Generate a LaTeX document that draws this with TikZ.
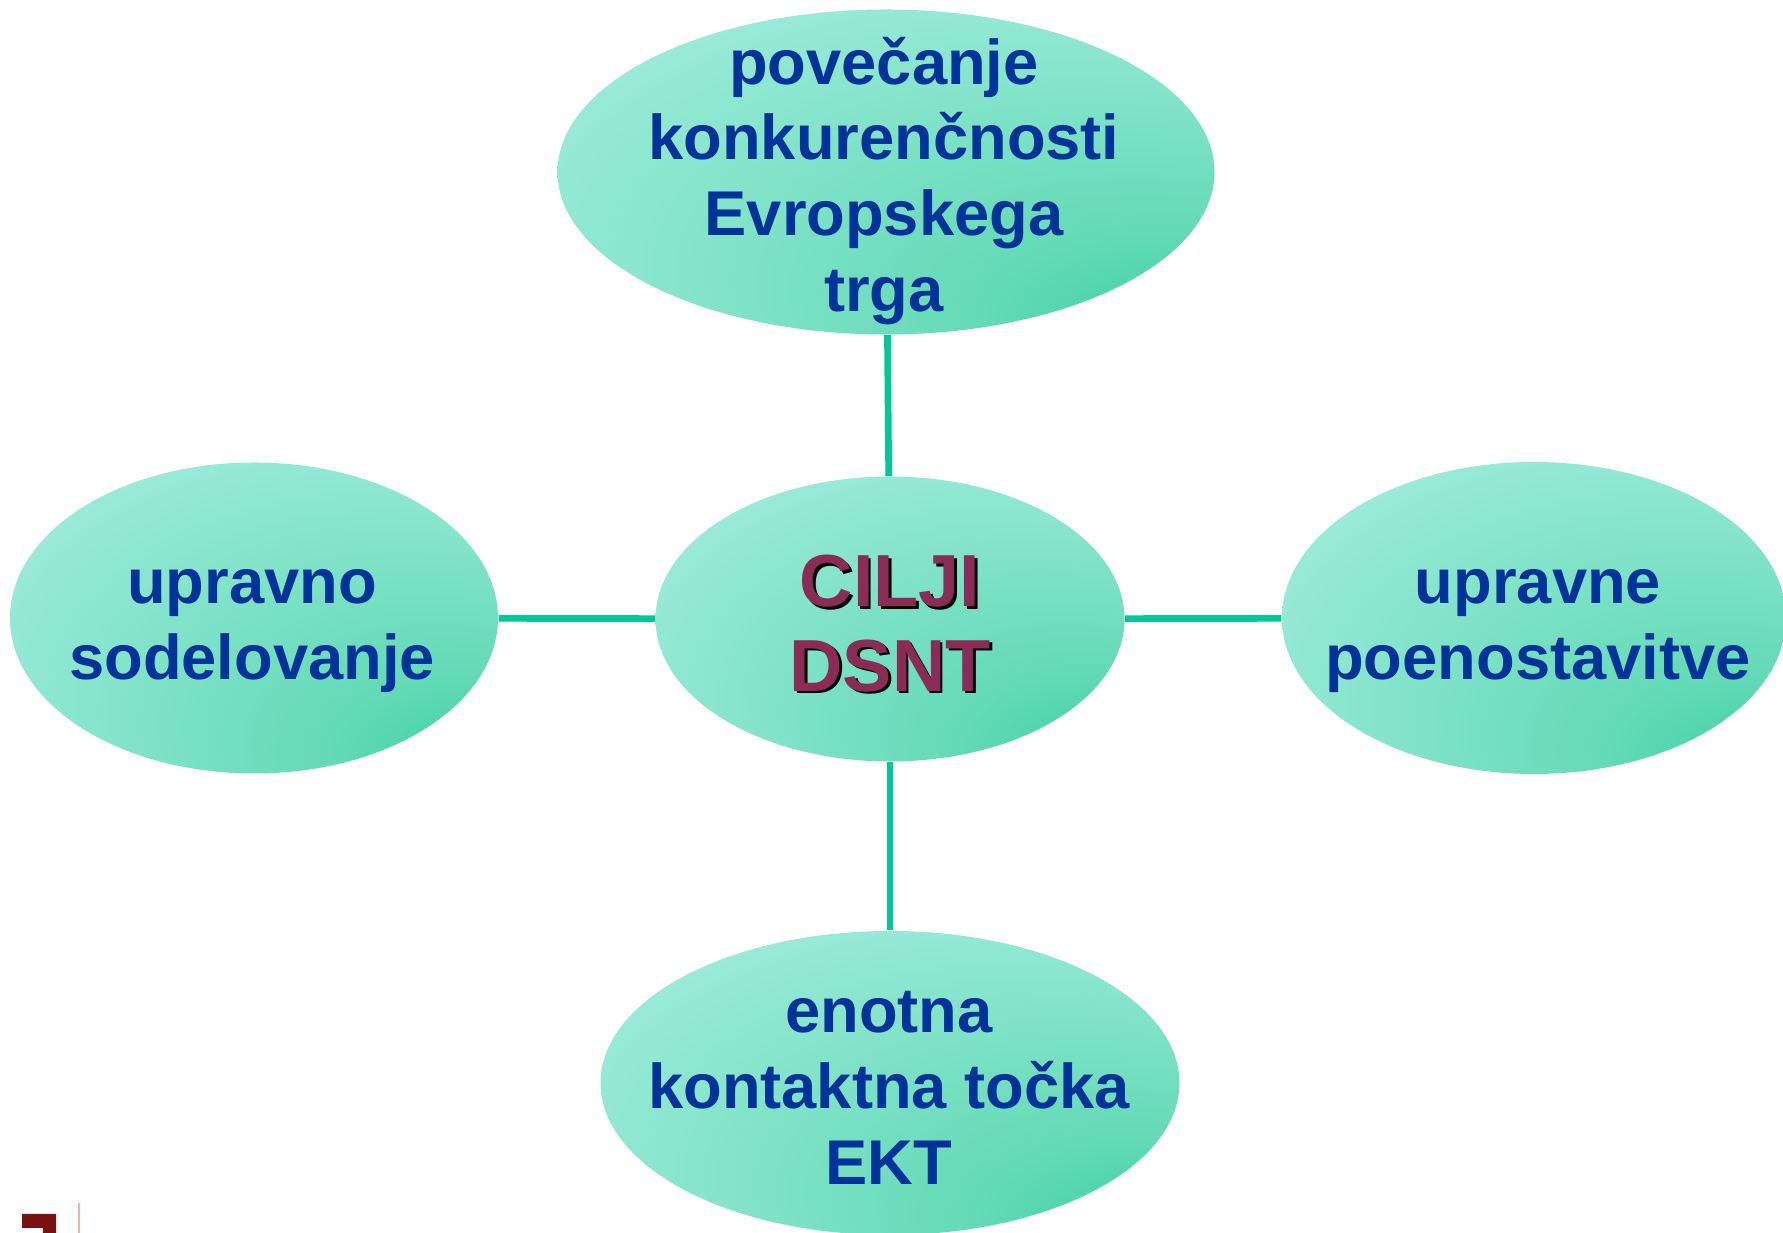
\documentclass[tikz,border=0pt]{standalone}
\usepackage{fontspec}
\setmainfont{Liberation Sans}
\usepackage{tikz}
\definecolor{white}{rgb}{1.0, 1.0, 1.0}
\definecolor{black}{rgb}{0.0, 0.0, 0.0}
\definecolor{lgreen}{RGB}{155, 235, 216}
\definecolor{mgreen}{RGB}{100, 218, 182}
\definecolor{dgreen}{RGB}{40, 204, 152}
\definecolor{lnk}{RGB}{0, 200, 150}
\definecolor{tblue}{RGB}{0, 51, 153}
\definecolor{cred}{RGB}{138, 44, 85}
\definecolor{logored}{RGB}{122, 18, 18}
\definecolor{lpink}{RGB}{244, 176, 176}
\usetikzlibrary{shapes.geometric}
\pgfdeclarelayer{edgelayer}
\pgfdeclarelayer{nodelayer}
\pgfsetlayers{edgelayer,nodelayer,main}
\pgfdeclareradialshading{ovalshade}{\pgfpoint{28bp}{-30bp}}{color(0bp)=(dgreen); color(14bp)=(mgreen); color(40bp)=(lgreen); color(60bp)=(lgreen)}
\tikzstyle{oval}=[ellipse,shading=ovalshade,inner sep=0pt]
\tikzstyle{words}=[align=center,inner sep=0pt,text=tblue,font=\bfseries\fontsize{18}{21.6}\selectfont]
\tikzstyle{link}=[draw=lnk,line width=1.9pt]
\newcommand{\shadowed}[1]{\leavevmode\rlap{\kern0.8pt\raisebox{-0.8pt}{\color{black}#1}}{\color{cred}#1}}

\begin{document}
\begin{tikzpicture}
        \useasboundingbox (0, 0) rectangle (17.83, 12.33);
        \begin{pgfonlayer}{nodelayer}
            \node [style = oval, minimum width=6.57cm, minimum height=3.25cm] (top) at (8.86, 10.61) {};
            \node [style = oval, minimum width=4.69cm, minimum height=2.85cm] (cilji) at (8.90, 6.14) {};
            \node [style = oval, minimum width=4.88cm, minimum height=3.11cm] (left) at (2.54, 6.15) {};
            \node [style = oval, minimum width=5.04cm, minimum height=3.12cm] (right) at (15.34, 6.15) {};
            \node [style = oval, minimum width=5.79cm, minimum height=3.04cm] (bottom) at (8.90, 1.50) {};
        \end{pgfonlayer}

        \node [style = words] (toptext) at (8.84, 10.52) {pove\v{c}anje\\konkuren\v{c}nosti\\Evropskega\\trga};
        \node [style = words, font=\bfseries\fontsize{21}{24}\selectfont] (ciljitext) at (8.90, 6.08) {\shadowed{CILJI}\\\shadowed{DSNT}};
        \node [style = words] (lefttext) at (2.52, 6.02) {upravno\\sodelovanje};
        \node [style = words] (righttext) at (15.38, 6.02) {upravne\\poenostavitve};
        \node [style = words] (bottomtext) at (8.89, 1.45) {enotna\\kontaktna to\v{c}ka\\EKT};

        \begin{pgfonlayer}{edgelayer}
            \draw [style = link] (cilji) to (top);
            \draw [style = link] (cilji) to (left);
            \draw [style = link] (cilji) to (right);
            \draw [style = link] (cilji) to (bottom);
        \end{pgfonlayer}

        % corner of the slide logo
        \fill [logored] (0.22, 0.19) -- (0.56, 0.19) -- (0.56, 0) -- (0.43, 0) -- (0.43, 0.05) -- (0.22, 0.05) -- cycle;
        \draw [lpink, line width=0.6pt] (0.79, 0) -- (0.79, 0.30);
    \end{tikzpicture}
\end{document}
